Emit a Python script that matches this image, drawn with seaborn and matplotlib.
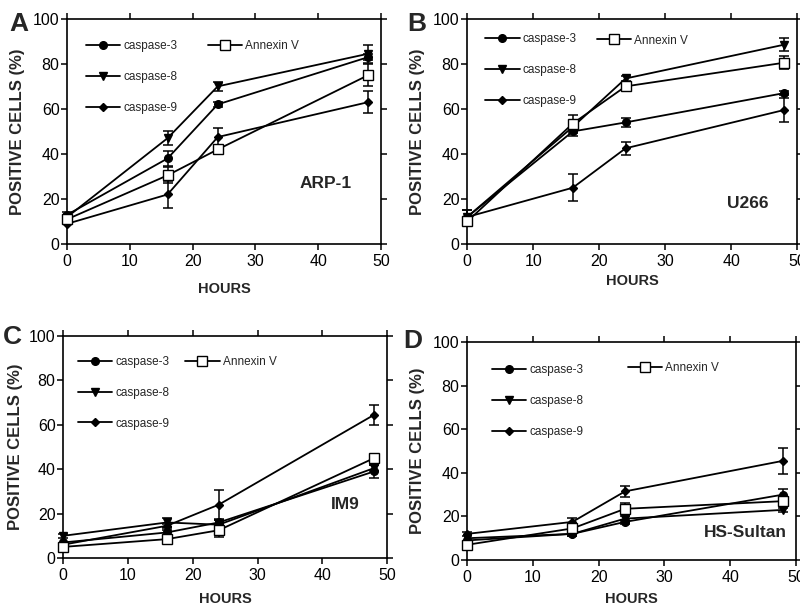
import numpy as np
import pandas as pd
import seaborn as sns
import matplotlib
matplotlib.use("Agg")
import matplotlib.pyplot as plt

sns.set_style("ticks")
plt.rcParams["font.family"] = ["Liberation Sans", "DejaVu Sans"]

# ---------------- data ----------------
hours = [0, 16, 24, 48]
series_names = ["caspase-3", "caspase-8", "caspase-9", "Annexin V"]

A_c3 = [13, 38, 62, 83];     A_c3_err = [1, 3.5, 1, 1.5]
A_c8 = [12, 47, 70, 84.5];   A_c8_err = [1, 3, 2, 4]
A_c9 = [9, 22, 47.5, 63];    A_c9_err = [0, 6, 4, 5]
A_an = [11, 30.5, 42, 75];   A_an_err = [1, 3.5, 1, 5]

B_c3 = [12, 50, 54, 67];     B_c3_err = [3, 2, 2, 1]
B_c8 = [12, 52, 73.5, 88.5]; B_c8_err = [3, 2, 1, 3]
B_c9 = [12, 25, 42.5, 59.5]; B_c9_err = [0, 6, 3, 5.5]
B_an = [10, 53.5, 70, 80.5]; B_an_err = [1, 4, 1, 3]

C_c3 = [7, 11.5, 16, 39];    C_c3_err = [0, 1, 1, 3]
C_c8 = [10, 16, 15, 40.5];   C_c8_err = [1, 2, 2, 1.5]
C_c9 = [6, 14.5, 24, 64.5];  C_c9_err = [0, 1, 6.5, 4.5]
C_an = [5, 8.5, 12.5, 45];   C_an_err = [1, 1, 3, 1]

D_c3 = [9, 12, 17.5, 30];    D_c3_err = [0, 1, 1, 2.5]
D_c8 = [10, 12, 19, 23];     D_c8_err = [0, 1, 1, 1]
D_c9 = [12, 17.5, 31.5, 45.5]; D_c9_err = [1, 2, 2.5, 6]
D_an = [7, 14.5, 23.5, 27];  D_an_err = [1, 1, 2.5, 2]

panel_letters = ["A", "B", "C", "D"]
cell_lines = ["ARP-1", "U266", "IM9", "HS-Sultan"]
x_ticks = [0, 10, 20, 30, 40, 50]
y_ticks = [0, 20, 40, 60, 80, 100]

panel_data = [
    [(A_c3, A_c3_err), (A_c8, A_c8_err), (A_c9, A_c9_err), (A_an, A_an_err)],
    [(B_c3, B_c3_err), (B_c8, B_c8_err), (B_c9, B_c9_err), (B_an, B_an_err)],
    [(C_c3, C_c3_err), (C_c8, C_c8_err), (C_c9, C_c9_err), (C_an, C_an_err)],
    [(D_c3, D_c3_err), (D_c8, D_c8_err), (D_c9, D_c9_err), (D_an, D_an_err)],
]

# ---------------- layout / style ----------------
rects = [
    (0.084, 0.598, 0.392, 0.371),
    (0.584, 0.598, 0.4125, 0.371),
    (0.079, 0.0807, 0.405, 0.366),
    (0.584, 0.0774, 0.411, 0.359),
]
letter_pos = [(0.012, 0.961), (0.509, 0.961), (0.004, 0.445), (0.504, 0.438)]
cell_pos = [(45.4, 27), (45.6, 18), (45.8, 24), (48.6, 12.5)]
leg1_pos = [(0.06, 0.905), (0.055, 0.935), (0.046, 0.91), (0.076, 0.9)]
leg2_pos = [(0.449, 0.905), (0.394, 0.93), (0.377, 0.91), (0.489, 0.91)]
xlabel_y = [-0.169, -0.133, -0.153, -0.147]
ylabel_x = [-0.134, -0.127, -0.123, -0.128]

styles = [
    dict(marker="o", markersize=5.5, markerfacecolor="black", zorder=4),
    dict(marker="v", markersize=6, markerfacecolor="black", zorder=4),
    dict(marker="D", markersize=4, markerfacecolor="black", zorder=4),
    dict(marker="s", markersize=6.5, markerfacecolor="white", zorder=6),
]

fig = plt.figure(figsize=(8, 6.07), dpi=100)

for p in range(4):
    ax = fig.add_axes(rects[p])
    handles = []
    for s in range(4):
        vals, errs = panel_data[p][s]
        df = pd.DataFrame({"hours": hours, "value": vals, "err": errs})
        e = df[df["err"] > 0]
        ax.errorbar(e["hours"], e["value"], yerr=e["err"], fmt="none",
                    ecolor="black", elinewidth=1.1, capsize=3.5, capthick=1.1,
                    zorder=3, clip_on=False)
        sns.lineplot(data=df, x="hours", y="value", ax=ax, color="black",
                     linewidth=1.3, markeredgecolor="black", markeredgewidth=1.0,
                     label=series_names[s], clip_on=False, **styles[s])
        handles.append(ax.lines[-1])

    ax.set_xlim(0, 50)
    ax.set_ylim(0, 100)
    ax.set_xticks(x_ticks)
    ax.set_yticks(y_ticks)
    for sp in ax.spines.values():
        sp.set_visible(True)
        sp.set_linewidth(1.2)
        sp.set_color("black")
    ax.tick_params(direction="out", length=4.5, width=1.1, colors="black",
                   top=True, right=True, labelsize=11.5)
    ax.tick_params(axis="y", pad=1)
    ax.tick_params(axis="x", pad=3)

    ax.set_xlabel("HOURS", fontsize=10.5, fontweight="bold")
    ax.set_ylabel("POSITIVE CELLS (%)", fontsize=12, fontweight="bold")
    ax.xaxis.set_label_coords(0.5, xlabel_y[p])
    ax.yaxis.set_label_coords(ylabel_x[p], 0.5)

    leg_kw = dict(loc="upper left", frameon=False, borderpad=0, borderaxespad=0,
                  handlelength=2.9, handletextpad=0.25, labelspacing=1.6,
                  fontsize=8.5)
    leg1 = ax.legend(handles=handles[:3], labels=series_names[:3],
                     bbox_to_anchor=leg1_pos[p], **leg_kw)
    ax.add_artist(leg1)
    ax.legend(handles=handles[3:], labels=series_names[3:],
              bbox_to_anchor=leg2_pos[p], **leg_kw)

    ax.text(cell_pos[p][0], cell_pos[p][1], cell_lines[p], ha="right",
            va="center", fontsize=12.5, fontweight="bold")
    fig.text(letter_pos[p][0], letter_pos[p][1], panel_letters[p],
             ha="left", va="center", fontsize=19, fontweight="bold")

fig.savefig("out.png", dpi=100)
